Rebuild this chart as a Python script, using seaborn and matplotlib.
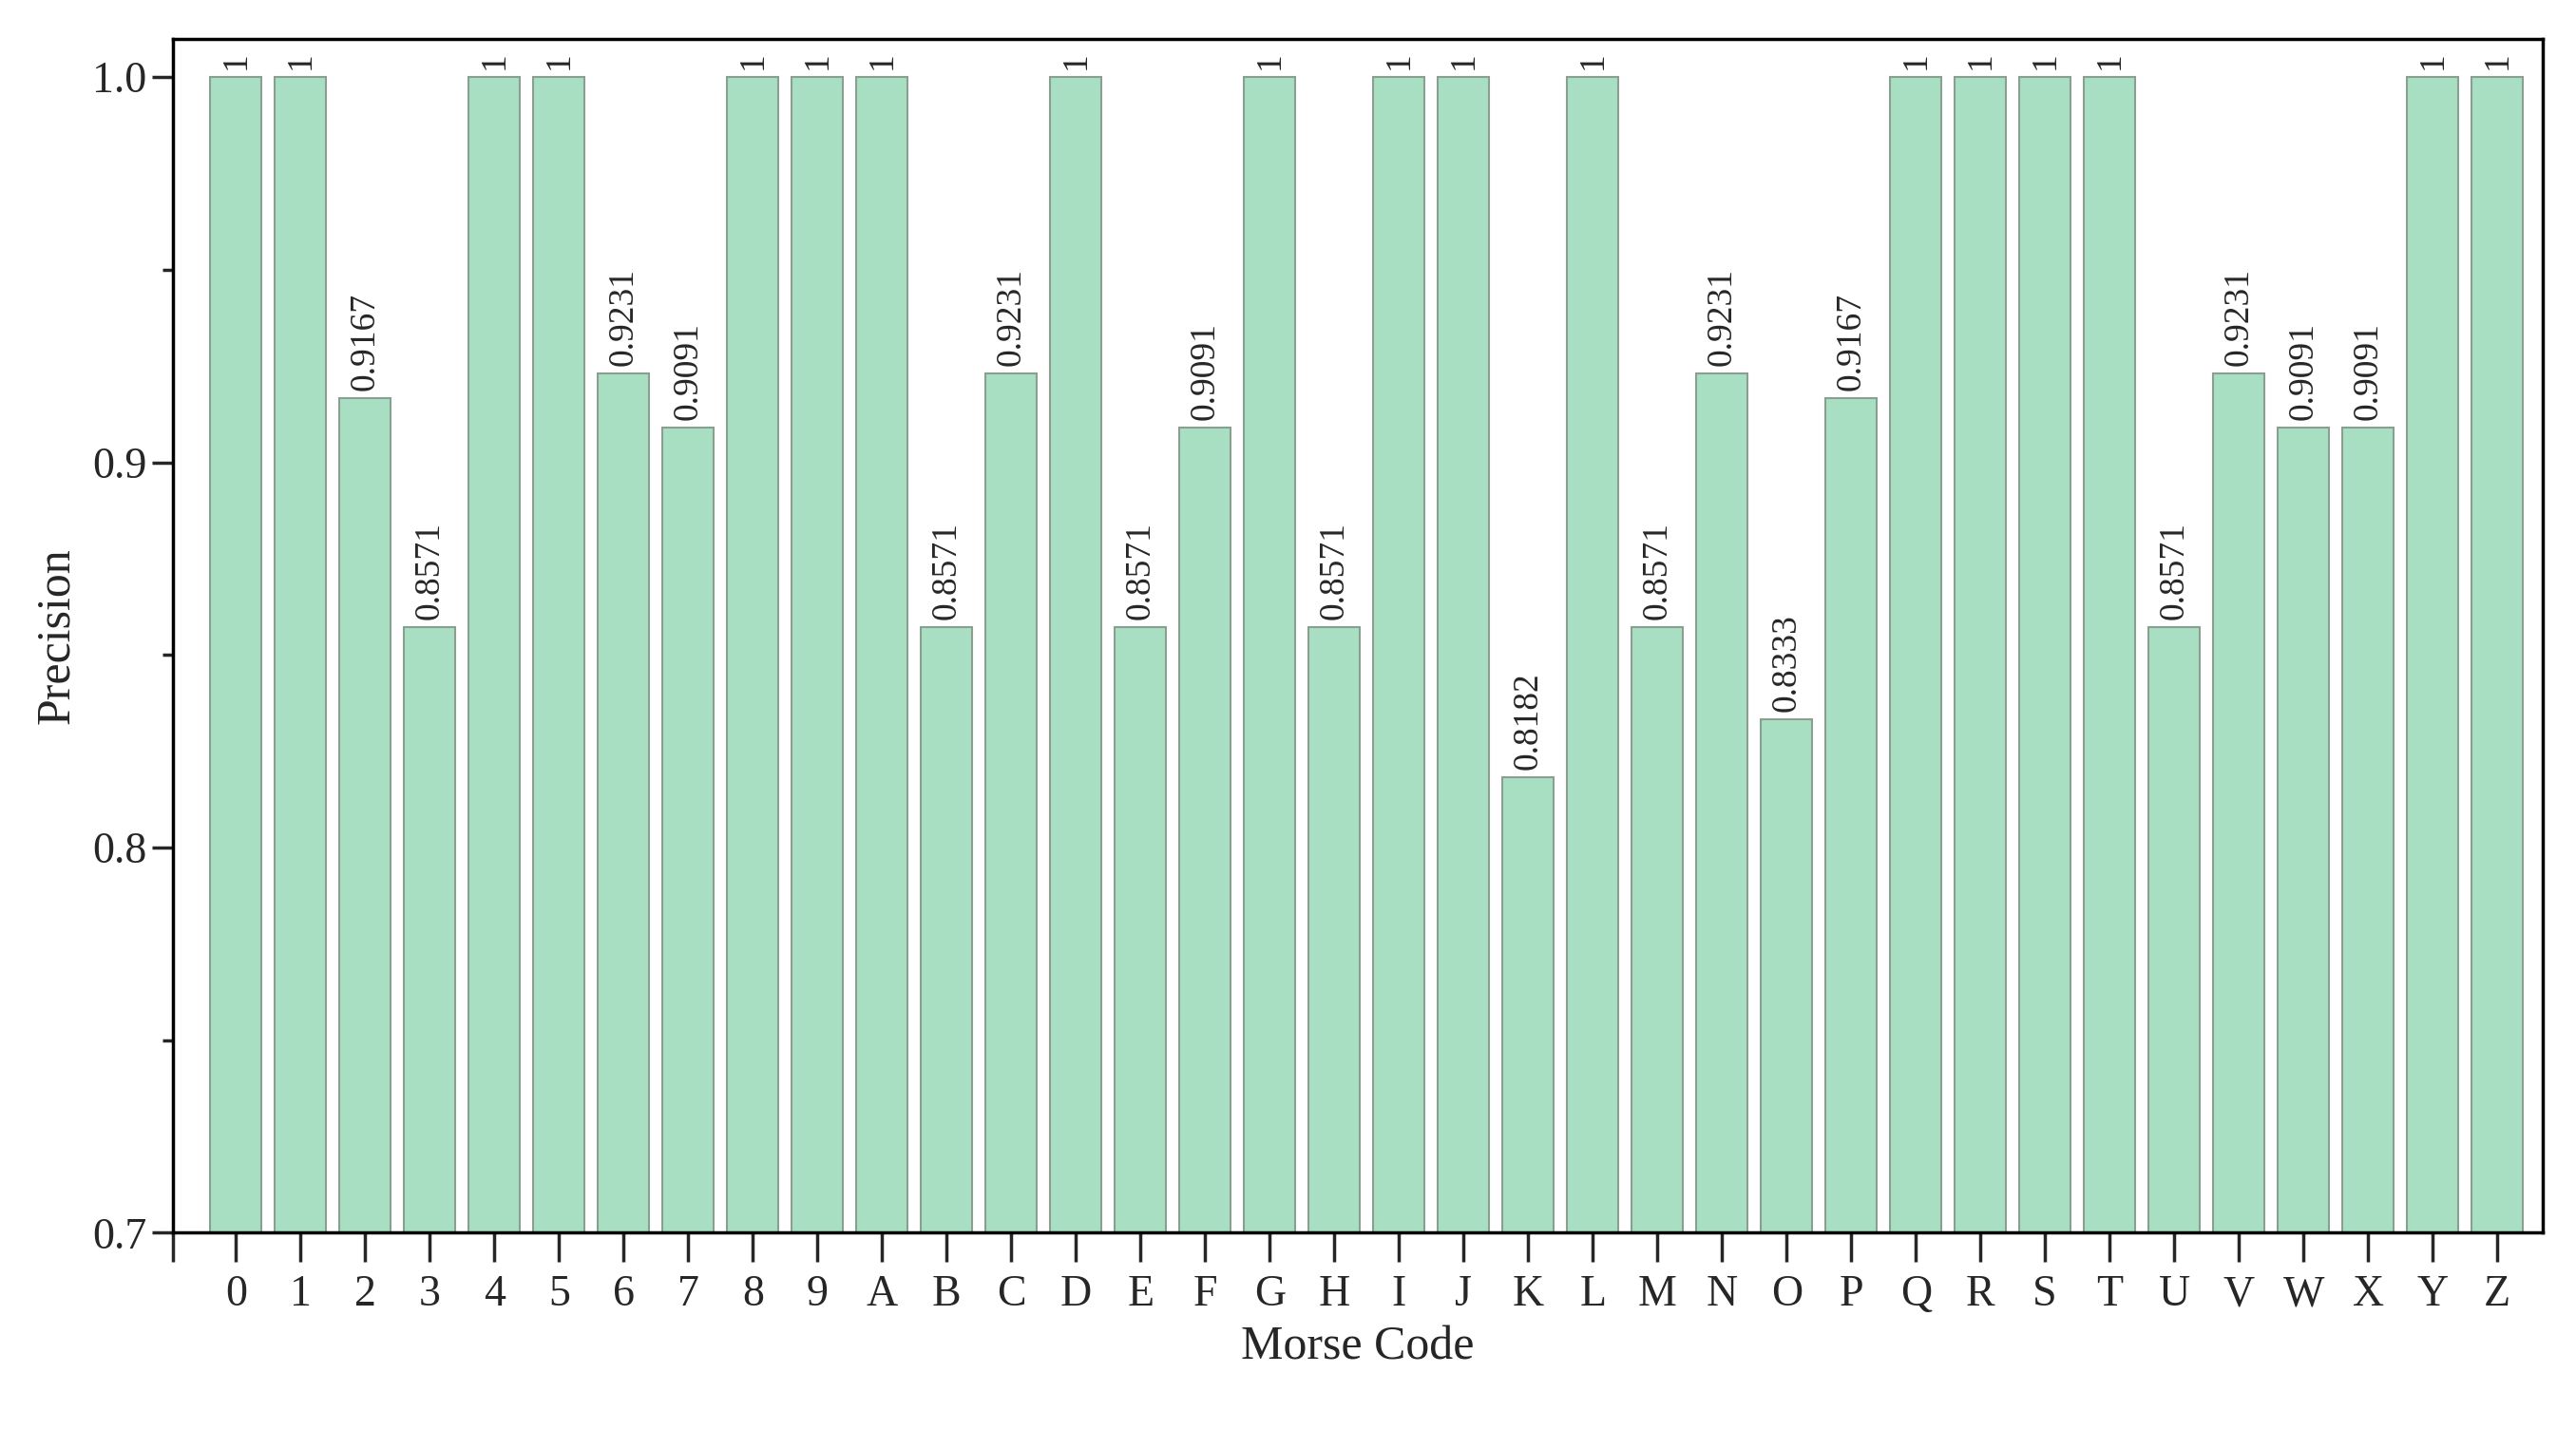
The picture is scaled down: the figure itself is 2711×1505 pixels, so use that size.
import matplotlib
matplotlib.use("Agg")
import matplotlib.pyplot as plt
import seaborn as sns
import pandas as pd
from matplotlib.ticker import MultipleLocator

# Data
codes = list("0123456789ABCDEFGHIJKLMNOPQRSTUVWXYZ")
precision = [1, 1, 0.9167, 0.8571, 1, 1, 0.9231, 0.9091, 1, 1,
             1, 0.8571, 0.9231, 1, 0.8571, 0.9091, 1, 0.8571, 1, 1,
             0.8182, 1, 0.8571, 0.9231, 0.8333, 0.9167, 1, 1, 1, 1,
             0.8571, 0.9231, 0.9091, 0.9091, 1, 1]
labels = ["1" if v == 1 else f"{v:.4f}" for v in precision]

df = pd.DataFrame({"code": codes, "precision": precision})

sns.set_theme(style="ticks")
plt.rcParams['font.family'] = ['Liberation Serif', 'DejaVu Serif']

fig = plt.figure(figsize=(27.11, 15.05), dpi=100)
ax = fig.add_axes([0.067, 0.138, 0.92, 0.835])

sns.barplot(data=df, x="code", y="precision", color="#a8dfc3", saturation=1,
            edgecolor="#8a9e92", linewidth=1.5, width=0.8, ax=ax)

# bars start at 0.7, so set bottoms via ylim
ax.set_ylim(0.7, 1.010)
ax.set_xlim(-0.98, 35.7)

for bar, lab in zip(ax.patches, labels):
    ax.text(bar.get_x() + bar.get_width() / 2, bar.get_height() + 0.002, lab,
            rotation=90, ha="center", va="bottom", fontsize=27)

ax.set_yticks([0.7, 0.8, 0.9, 1.0])
ax.set_yticklabels(["0.7", "0.8", "0.9", "1.0"])
ax.yaxis.set_minor_locator(MultipleLocator(0.05))
ax.set_xticks([-0.98] + list(range(len(codes))))
ax.set_xticklabels([""] + codes)

ax.tick_params(axis="x", length=22, width=2.5, labelsize=33, pad=10)
ax.tick_params(axis="y", which="major", length=16, width=2.5, labelsize=33)
ax.tick_params(axis="y", which="minor", length=8, width=2.5)
for s in ax.spines.values():
    s.set_linewidth(2.5)
    s.set_color("black")

ax.set_xlabel("Morse Code", fontsize=36, labelpad=8)
ax.set_ylabel("Precision", fontsize=36, labelpad=10)

fig.savefig("out.png", dpi=100)
